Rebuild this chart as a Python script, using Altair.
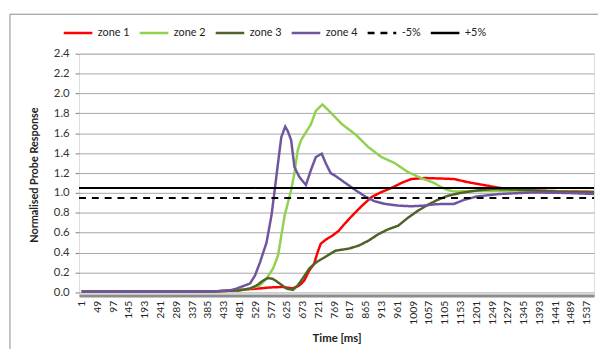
import altair as alt
import pandas as pd

# ---- data ----
series_names = ["zone 1", "zone 2", "zone 3", "zone 4", "-5%", "+5%"]
series_colors = ["#FF0000", "#92D050", "#4F6228", "#6E559E", "#000000", "#000000"]
series_dash = [[1, 0], [1, 0], [1, 0], [1, 0], [7, 6], [1, 0]]

x_ticks = [1, 49, 97, 145, 193, 241, 289, 337, 385, 433, 481, 529, 577, 625, 673,
           721, 769, 817, 865, 913, 961, 1009, 1057, 1105, 1153, 1201, 1249, 1297,
           1345, 1393, 1441, 1489, 1537]
y_ticks = [0.0, 0.2, 0.4, 0.6, 0.8, 1.0, 1.2, 1.4, 1.6, 1.8, 2.0, 2.2, 2.4]

z1_t = [1, 100, 200, 300, 400, 460, 500, 543, 573, 613, 643, 663, 678, 693, 708,
        718, 728, 743, 763, 783, 798, 823, 853, 883, 913, 943, 973, 1003, 1043,
        1093, 1133, 1173, 1223, 1273, 1333, 1423, 1559]
z1_v = [0.01, 0.01, 0.01, 0.01, 0.01, 0.02, 0.03, 0.04, 0.05, 0.055, 0.04, 0.07,
        0.12, 0.22, 0.29, 0.40, 0.49, 0.53, 0.57, 0.62, 0.68, 0.77, 0.87, 0.96,
        1.01, 1.05, 1.10, 1.14, 1.15, 1.145, 1.14, 1.11, 1.08, 1.05, 1.03, 1.02, 1.01]

z2_t = [1, 200, 400, 480, 513, 543, 563, 583, 598, 608, 618, 628, 638, 648, 658,
        668, 683, 698, 713, 733, 753, 793, 833, 873, 913, 953, 993, 1033, 1073,
        1093, 1113, 1133, 1200, 1300, 1400, 1500, 1559]
z2_v = [0.01, 0.01, 0.01, 0.02, 0.04, 0.07, 0.14, 0.24, 0.37, 0.57, 0.77, 0.90,
        1.03, 1.20, 1.43, 1.53, 1.61, 1.69, 1.825, 1.89, 1.825, 1.69, 1.59, 1.46,
        1.36, 1.30, 1.21, 1.15, 1.10, 1.06, 1.03, 1.015, 1.02, 1.02, 1.02, 1.01, 1.00]

z3_t = [1, 200, 400, 480, 513, 533, 553, 568, 583, 603, 623, 643, 658, 673, 693,
        713, 743, 773, 813, 843, 873, 903, 933, 963, 993, 1023, 1053, 1083, 1113,
        1153, 1203, 1253, 1313, 1373, 1473, 1559]
z3_v = [0.01, 0.01, 0.01, 0.02, 0.04, 0.07, 0.12, 0.145, 0.135, 0.09, 0.04, 0.025,
        0.07, 0.14, 0.24, 0.30, 0.36, 0.42, 0.44, 0.47, 0.52, 0.585, 0.635, 0.67,
        0.75, 0.82, 0.88, 0.93, 0.97, 1.0, 1.025, 1.04, 1.035, 1.025, 1.01, 1.01]

z4_t = [1, 200, 400, 450, 473, 513, 528, 543, 563, 578, 588, 598, 608, 620, 628,
        638, 648, 663, 683, 698, 713, 731, 743, 758, 773, 803, 833, 863, 893, 923,
        963, 1003, 1043, 1073, 1103, 1133, 1163, 1203, 1273, 1373, 1473, 1559]
z4_v = [0.01, 0.01, 0.01, 0.02, 0.04, 0.09, 0.17, 0.30, 0.50, 0.77, 1.03, 1.30,
        1.56, 1.667, 1.62, 1.53, 1.26, 1.16, 1.08, 1.23, 1.36, 1.395, 1.30, 1.20,
        1.17, 1.10, 1.03, 0.965, 0.915, 0.89, 0.873, 0.866, 0.873, 0.885, 0.89,
        0.89, 0.93, 0.965, 0.99, 1.005, 1.0, 0.99]

lo_t = [-7, 1559]
lo_v = [0.95, 0.95]
hi_t = [-7, 1559]
hi_v = [1.05, 1.05]

# ---- tables ----
def frame(name, ts, vs):
    return pd.DataFrame({"t": ts, "v": vs, "series": name})

zones = pd.concat([frame("zone 1", z1_t, z1_v), frame("zone 2", z2_t, z2_v),
                   frame("zone 3", z3_t, z3_v), frame("zone 4", z4_t, z4_v)],
                  ignore_index=True)
limits = pd.concat([frame("-5%", lo_t, lo_v), frame("+5%", hi_t, hi_v)],
                   ignore_index=True)

FONT = "Lato"

x_enc = alt.X("t:Q",
              scale=alt.Scale(domain=[-7, 1559], nice=False, zero=False),
              axis=alt.Axis(values=x_ticks, format="d", labelAngle=-90, ticks=False,
                            grid=False, domainColor="#8C8C8C", domainWidth=3,
                            labelFontSize=10.5, labelPadding=5, labelColor="#222222",
                            labelFlush=False, labelOverlap=False,
                            title="Time [ms]", titleFontWeight="bold",
                            titleFontSize=11.5, titlePadding=8, titleColor="#222222"))
y_enc = alt.Y("v:Q",
              scale=alt.Scale(domain=[-0.03, 2.4], nice=False, zero=False),
              axis=alt.Axis(values=y_ticks, format=".1f", grid=True,
                            gridColor="#A6A6A6", gridWidth=1,
                            tickSize=4, tickColor="#808080", domain=False,
                            labelFontSize=11.5, labelColor="#333333", labelPadding=6,
                            labelFlush=False,
                            title="Normalised Probe Response", titleFontSize=11,
                            titleFontWeight="bold", titleColor="#222222",
                            titlePadding=14))
legend_cfg = dict(title=None, orient="none", legendX=-17, legendY=-37, padding=0,
                  direction="horizontal", symbolType="stroke", symbolSize=841,
                  symbolStrokeWidth=2.5, labelFontSize=11, labelOffset=4,
                  columnPadding=4, labelColor="#222222")
color_enc = alt.Color("series:N",
                      scale=alt.Scale(domain=series_names, range=series_colors),
                      legend=alt.Legend(**legend_cfg))
dash_enc = alt.StrokeDash("series:N",
                          scale=alt.Scale(domain=series_names, range=series_dash),
                          legend=alt.Legend(**legend_cfg))

zone_lines = alt.Chart(zones).mark_line(strokeWidth=2.5).encode(
    x=x_enc, y=y_enc, color=color_enc, strokeDash=dash_enc)
limit_lines = alt.Chart(limits).mark_line(strokeWidth=2).encode(
    x=x_enc, y=y_enc, color=color_enc, strokeDash=dash_enc)

border = alt.Chart(pd.DataFrame({"k": [0]})).mark_rect(
    fillOpacity=0, stroke="#8A8A8A", strokeWidth=1).encode(
    x=alt.value(-70), x2=alt.value(540), y=alt.value(-40), y2=alt.value(330))

chart = alt.layer(border, zone_lines, limit_lines).properties(
    width=522, height=245,
    autosize=alt.AutoSizeParams(type="none"),
    padding={"left": 72, "top": 44, "right": 4, "bottom": 52},
    background="white",
).configure_view(fill="#D9D9D9", stroke="#808080", strokeWidth=1
).configure(font=FONT)

chart.save("out.html", embed_options={"renderer": "svg", "actions": False})
